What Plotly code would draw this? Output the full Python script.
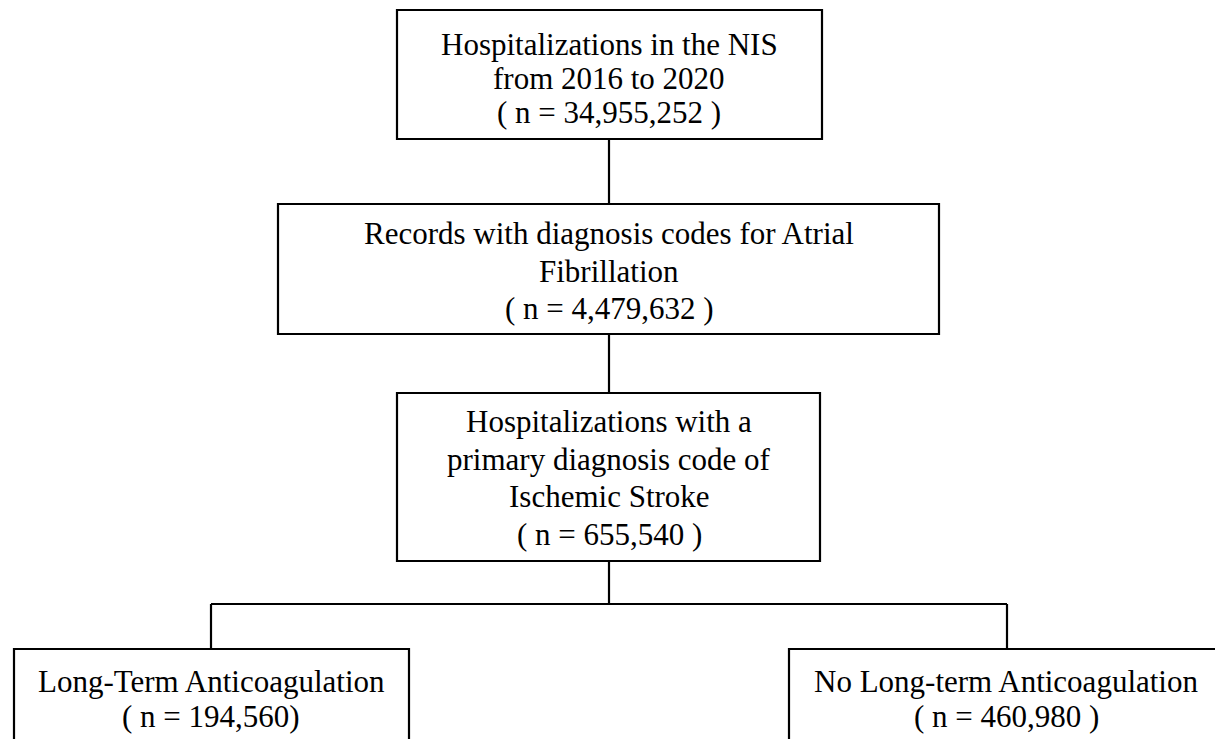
import plotly.graph_objects as go

# ---- data ----
stage_titles = [
    ["Hospitalizations in the NIS", "from 2016 to 2020"],
    ["Records with diagnosis codes for Atrial", "Fibrillation"],
    ["Hospitalizations with a", "primary diagnosis code of", "Ischemic Stroke"],
    ["Long-Term Anticoagulation"],
    ["No Long-term Anticoagulation"],
]
stage_counts = [34955252, 4479632, 655540, 194560, 460980]
count_suffix = [" )", " )", " )", ")", " )"]

# ---- layout geometry (pixels, y downward) ----
W, H = 1215, 739
boxes = [  # x0, y0, x1, y1
    (397, 10, 822, 139),
    (278, 204, 939, 334),
    (397, 393, 820, 561),
    (14, 649, 409, 780),
    (789, 649, 1240, 780),
]
text_centers = [78, 271, 478, 699, 699]
text_x = [609, 609, 609, 211, 1006]
line_gap = [34, 37.5, 37.7, 35, 35]
split_y = 604
left_x, right_x, mid_x = 211, 1007, 609
LW = 2.2
FONT = "Liberation Serif, Times New Roman, serif"
FS = 31

fig = go.Figure()
shapes = []
annotations = []
for i, (x0, y0, x1, y1) in enumerate(boxes):
    shapes.append(dict(type="rect", x0=x0, y0=y0, x1=x1, y1=y1,
                       line=dict(color="black", width=LW), fillcolor="white",
                       layer="above"))
    lines = stage_titles[i] + [f"( n = {stage_counts[i]:,}{count_suffix[i]}"]
    n = len(lines)
    for k, t in enumerate(lines):
        y = text_centers[i] + (k - (n - 1) / 2) * line_gap[i]
        annotations.append(dict(x=text_x[i], y=y, text=t, showarrow=False,
                                xanchor="center", yanchor="middle",
                                font=dict(family=FONT, size=FS, color="black")))

# connectors
conn = [
    (mid_x, boxes[0][3], mid_x, boxes[1][1]),
    (mid_x, boxes[1][3], mid_x, boxes[2][1]),
    (mid_x, boxes[2][3], mid_x, split_y),
    (left_x, split_y, right_x, split_y),
    (left_x, split_y, left_x, boxes[3][1]),
    (right_x, split_y, right_x, boxes[4][1]),
]
for (x0, y0, x1, y1) in conn:
    shapes.append(dict(type="line", x0=x0, y0=y0, x1=x1, y1=y1,
                       line=dict(color="black", width=LW)))

fig.update_layout(
    width=W, height=H,
    margin=dict(l=0, r=0, t=0, b=0),
    paper_bgcolor="white", plot_bgcolor="white",
    xaxis=dict(range=[0, W], visible=False, fixedrange=True),
    yaxis=dict(range=[H, 0], visible=False, fixedrange=True),
    shapes=shapes, annotations=annotations, showlegend=False,
)
fig.write_html(
    "out.html",
    config={"displayModeBar": False},
    post_script=(
        "document.body.style.margin='0';"
        "document.body.style.overflow='hidden';"
        "document.documentElement.style.overflow='hidden';"
    ),
)
